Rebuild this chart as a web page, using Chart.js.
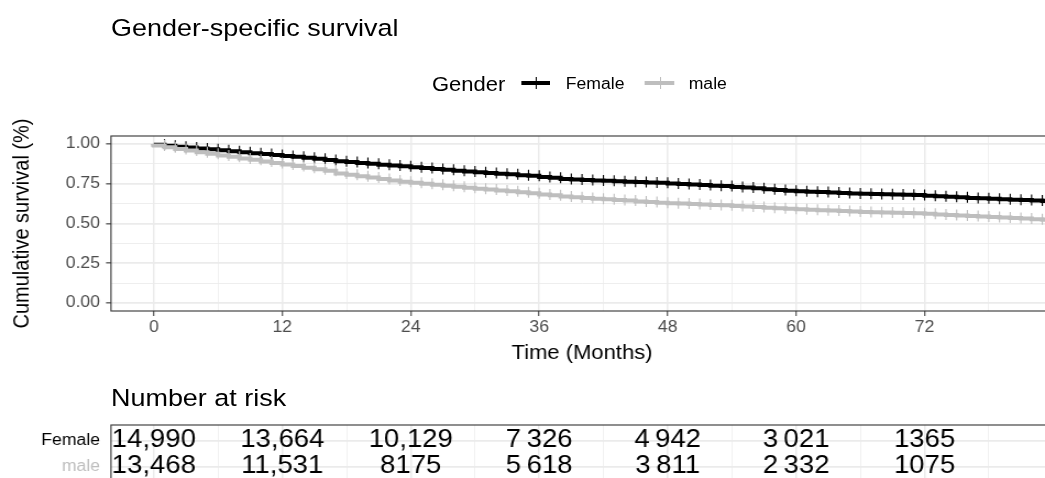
<!DOCTYPE html>
<html>
<head>
<meta charset="utf-8">
<script src="https://cdn.jsdelivr.net/npm/chart.js@4.4.0/dist/chart.umd.min.js"></script>
<style>
  html, body { margin: 0; padding: 0; background: #fff; overflow: hidden; width: 1045px; height: 478px; }
  /* the reference is slightly wider than tall, so the whole drawing is stretched a little */
  #wrap { position: absolute; left: 0; top: 0; width: 975px; height: 492px;
          transform: scaleX(1.1); transform-origin: 0 0;
          font-family: "Liberation Sans", Arial, sans-serif; color: #000; }
  .txt { position: absolute; white-space: nowrap; line-height: 1; }
  canvas { position: absolute; left: 0; }
  .key { position: absolute; height: 4px; }
  .key i { position: absolute; left: 50%; top: -4px; width: 1px; height: 12px; }
</style>
</head>
<body>
<div id="wrap">
  <div class="txt" style="left:100.9px; top:16px; font-size:24.5px;">Gender-specific survival</div>
  <div id="legend"></div>
  <canvas id="survChart" width="975" height="370" style="top:0"></canvas>
  <div class="txt" style="left:100.9px; top:386px; font-size:24.5px;">Number at risk</div>
  <canvas id="riskChart" width="975" height="122" style="top:370px"></canvas>
</div>
<script>
// survival curves (one point per month)
const months = [0, 1, 2, 3, 4, 5, 6, 7, 8, 9, 10, 11, 12, 13, 14, 15, 16, 17, 18, 19, 20,
  21, 22, 23, 24, 25, 26, 27, 28, 29, 30, 31, 32, 33, 34, 35, 36, 37, 38, 39, 40, 41, 42,
  43, 44, 45, 46, 47, 48, 49, 50, 51, 52, 53, 54, 55, 56, 57, 58, 59, 60, 61, 62, 63, 64,
  65, 66, 67, 68, 69, 70, 71, 72, 73, 74, 75, 76, 77, 78, 79, 80, 81, 82, 83, 84];

const female = [1.000, 0.995, 0.989, 0.983, 0.977, 0.972, 0.966, 0.960, 0.954, 0.948, 0.942,
  0.937, 0.931, 0.925, 0.919, 0.913, 0.907, 0.899, 0.891, 0.886, 0.881, 0.875, 0.870, 0.865,
  0.860, 0.854, 0.849, 0.843, 0.838, 0.832, 0.827, 0.822, 0.818, 0.813, 0.809, 0.804, 0.800,
  0.793, 0.787, 0.780, 0.777, 0.773, 0.770, 0.768, 0.765, 0.763, 0.761, 0.758, 0.756, 0.752,
  0.749, 0.745, 0.742, 0.738, 0.735, 0.730, 0.726, 0.721, 0.716, 0.711, 0.706, 0.703, 0.700,
  0.698, 0.695, 0.692, 0.689, 0.687, 0.686, 0.684, 0.682, 0.681, 0.679, 0.675, 0.672, 0.668,
  0.665, 0.661, 0.658, 0.655, 0.652, 0.650, 0.647, 0.644, 0.642];

const male = [1.000, 0.990, 0.980, 0.969, 0.959, 0.948, 0.938, 0.928, 0.919, 0.909, 0.900,
  0.890, 0.881, 0.871, 0.861, 0.851, 0.841, 0.831, 0.815, 0.806, 0.797, 0.789, 0.780, 0.771,
  0.762, 0.756, 0.750, 0.743, 0.737, 0.731, 0.725, 0.719, 0.713, 0.707, 0.702, 0.696, 0.690,
  0.683, 0.677, 0.670, 0.665, 0.661, 0.656, 0.652, 0.648, 0.644, 0.639, 0.635, 0.631, 0.628,
  0.625, 0.622, 0.620, 0.617, 0.614, 0.610, 0.607, 0.603, 0.599, 0.596, 0.592, 0.589, 0.586,
  0.583, 0.581, 0.578, 0.575, 0.573, 0.571, 0.569, 0.568, 0.566, 0.564, 0.561, 0.557, 0.554,
  0.551, 0.547, 0.544, 0.541, 0.537, 0.534, 0.531, 0.527, 0.524];

const groups = ['Female', 'male'];
const groupColors = ['#000000', '#BEBEBE'];

// axis breaks (majors get a label, minors only a grid line)
const xTicks = [0, 6, 12, 18, 24, 30, 36, 42, 48, 54, 60, 66, 72, 78];
const yTicks = [0, 0.125, 0.25, 0.375, 0.5, 0.625, 0.75, 0.875, 1];

// number at risk table
const riskTimes = [0, 12, 24, 36, 48, 60, 72];
const riskFemale = ['14,990', '13,664', '10,129', '7\u2009326', '4\u2009942', '3\u2009021', '1365'];
const riskMale = ['13,468', '11,531', '8175', '5\u2009618', '3\u2009811', '2\u2009332', '1075'];

Chart.defaults.font.family = '"Liberation Sans", Arial, sans-serif';
Chart.defaults.animation = false;

const isMajorX = v => v % 12 === 0;
const isMajorY = v => Math.abs(v * 4 - Math.round(v * 4)) < 1e-6;
const CLEAR = 'rgba(0,0,0,0)';

// legend: "Gender" then a line key with a censor tick for each group
const legend = document.getElementById('legend');
legend.innerHTML = '<div class="txt" style="left:392.7px; top:73.8px; font-size:20px;">Gender</div>';
const keyLeft = [473.6, 586.4], labelLeft = [514.3, 626.1];
groups.forEach((g, i) => {
    legend.innerHTML +=
        `<div class="key" style="left:${keyLeft[i]}px; top:81.3px; width:26.4px; background:${groupColors[i]}">` +
        `<i style="background:${groupColors[i]}"></i></div>` +
        `<div class="txt" style="left:${labelLeft[i]}px; top:75.8px; font-size:16px;">${g}</div>`;
});

const panelBorder = {
    id: 'panelBorder',
    afterDraw(chart) {
        const {ctx, chartArea: a} = chart;
        ctx.save();
        ctx.strokeStyle = '#333333';
        ctx.lineWidth = 1.1;
        ctx.strokeRect(a.left, a.top, a.right - a.left, a.bottom - a.top);
        ctx.restore();
    }
};

function curve(values, i, order) {
    return {
        label: groups[i],
        data: values.map((v, k) => ({x: months[k], y: v})),
        borderColor: groupColors[i],
        borderWidth: 4,
        stepped: 'after',
        fill: false,
        order: order,
        pointStyle: 'line',
        pointRotation: 90,
        pointRadius: c => c.dataIndex === 0 ? 0 : 5.5,
        pointBorderColor: groupColors[i],
        pointBorderWidth: 1.1,
        pointHoverRadius: 0
    };
}

new Chart(document.getElementById('survChart'), {
    type: 'line',
    data: { datasets: [curve(female, 0, 1), curve(male, 1, 0)] },
    options: {
        responsive: false,
        devicePixelRatio: 1,
        events: [],
        layout: { padding: { top: 136, right: 17.7, bottom: 0, left: 0 } },
        plugins: { legend: { display: false }, tooltip: { enabled: false } },
        scales: {
            x: {
                type: 'linear', min: -4, max: 84,
                afterBuildTicks: s => { s.ticks = xTicks.map(v => ({value: v})); },
                afterFit: s => { s.height = 59; },
                ticks: {
                    autoSkip: false, maxRotation: 0, padding: 2,
                    color: '#4D4D4D', font: { size: 16 },
                    callback: v => isMajorX(v) ? String(v) : ''
                },
                grid: {
                    color: '#EBEBEB',
                    lineWidth: c => isMajorX(c.tick.value) ? 1.5 : 0.75,
                    tickLength: 5,
                    tickWidth: 1,
                    tickColor: c => isMajorX(c.tick.value) ? '#333333' : CLEAR
                },
                border: { display: false },
                title: { display: true, text: 'Time (Months)', color: '#000', font: { size: 20 }, padding: { top: 0, bottom: 5 } }
            },
            y: {
                type: 'linear', min: -0.05, max: 1.05,
                afterBuildTicks: s => { s.ticks = yTicks.map(v => ({value: v})); },
                afterFit: s => { s.width = 100.9; },
                ticks: {
                    autoSkip: false, padding: 5.5,
                    color: '#4D4D4D', font: { size: 16 },
                    callback: v => isMajorY(v) ? v.toFixed(2) : ''
                },
                grid: {
                    color: '#EBEBEB',
                    lineWidth: c => isMajorY(c.tick.value) ? 1.7 : 0.85,
                    tickLength: 4.5,
                    tickWidth: 1.1,
                    tickColor: c => isMajorY(c.tick.value) ? '#333333' : CLEAR
                },
                border: { display: false },
                title: { display: true, text: 'Cumulative survival (%)', color: '#000', font: { size: 20 }, padding: { top: 8, bottom: 0 } }
            }
        }
    },
    plugins: [panelBorder]
});

// numbers at risk written under each labelled time
const riskText = {
    id: 'riskText',
    afterDatasetsDraw(chart) {
        const {ctx, scales: {x, y}} = chart;
        ctx.save();
        ctx.font = '25px "Liberation Sans", Arial, sans-serif';
        ctx.fillStyle = '#000';
        ctx.textAlign = 'center';
        ctx.textBaseline = 'alphabetic';
        [riskFemale, riskMale].forEach((row, r) => {
            const py = y.getPixelForValue(r + 1) + 6.5;
            row.forEach((label, k) => ctx.fillText(label, x.getPixelForValue(riskTimes[k]), py));
        });
        ctx.restore();
    }
};

new Chart(document.getElementById('riskChart'), {
    type: 'line',
    data: { datasets: [{ data: [] }] },
    options: {
        responsive: false,
        devicePixelRatio: 1,
        events: [],
        layout: { padding: { top: 55, right: 17.7, bottom: 10, left: 0 } },
        plugins: { legend: { display: false }, tooltip: { enabled: false } },
        scales: {
            x: {
                type: 'linear', min: -4, max: 84,
                afterBuildTicks: s => { s.ticks = xTicks.map(v => ({value: v})); },
                afterFit: s => { s.height = 0; },
                ticks: { display: false },
                grid: {
                    color: '#EBEBEB', drawTicks: false,
                    lineWidth: c => isMajorX(c.tick.value) ? 1.5 : 0.75
                },
                border: { display: false }
            },
            y: {
                type: 'linear', min: 0.4, max: 2.6, reverse: true,
                afterBuildTicks: s => { s.ticks = [{value: 1}, {value: 2}]; },
                afterFit: s => { s.width = 100.9; },
                ticks: {
                    autoSkip: false, padding: 0, font: { size: 16 },
                    color: c => groupColors[c.index],
                    callback: v => groups[v - 1]
                },
                grid: { color: '#EBEBEB', lineWidth: 1.7, tickLength: 10, tickColor: CLEAR },
                border: { display: false }
            }
        }
    },
    plugins: [panelBorder, riskText]
});
</script>
</body>
</html>
